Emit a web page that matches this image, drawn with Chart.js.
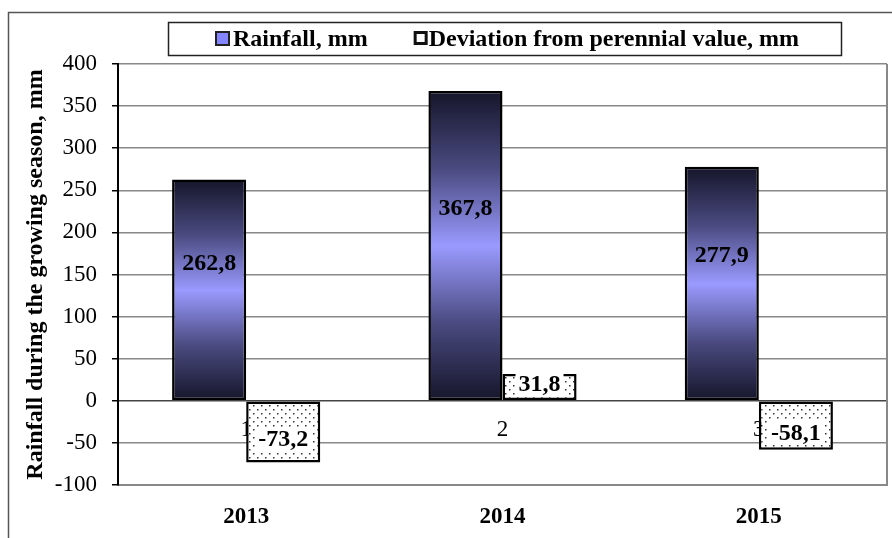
<!DOCTYPE html>
<html>
<head>
<meta charset="utf-8">
<script src="https://cdn.jsdelivr.net/npm/chart.js@4"></script>
<style>
  html, body { margin: 0; padding: 0; background: #fff; }
  #wrap { width: 892px; height: 538px; }
</style>
</head>
<body>
<div id="wrap"><canvas id="chart" width="892" height="538"></canvas></div>
<script>
// chart data
const years = ['2013', '2014', '2015'];
const rainfall = [262.8, 367.8, 277.9];
const deviation = [-73.2, 31.8, -58.1];
const strayMarks = ['1', '2', '3'];
const yTicks = [400, 350, 300, 250, 200, 150, 100, 50, 0, -50, -100];
const seriesNames = ['Rainfall, mm', 'Deviation from perennial value, mm'];

const serif = "'Liberation Serif', 'Times New Roman', serif";
const canvas = document.getElementById('chart');
const mainCtx = canvas.getContext('2d');

// dotted fill for the deviation bars
const pc = document.createElement('canvas');
pc.width = 8; pc.height = 8;
const pctx = pc.getContext('2d');
pctx.fillStyle = '#fff';
pctx.fillRect(0, 0, 8, 8);
pctx.fillStyle = '#333';
pctx.fillRect(1, 1, 1.5, 1.5);
pctx.fillRect(5, 5, 1.5, 1.5);
const dots = mainCtx.createPattern(pc, 'repeat');

function fmt(v) {
    return v.toFixed(1).replace('.', ',');
}

// vertical dark-light-dark gradient per bar
function rainGradient(context) {
    const chart = context.chart;
    const y = chart.scales.y;
    if (!y || context.type !== 'data') return '#8080ff';
    const top = y.getPixelForValue(context.raw);
    const base = y.getPixelForValue(0);
    if (!isFinite(top) || !isFinite(base) || top === base) return '#8080ff';
    const g = chart.ctx.createLinearGradient(0, top, 0, base);
    g.addColorStop(0, '#15152a');
    g.addColorStop(0.25, '#4a4a80');
    g.addColorStop(0.5, '#9a9aff');
    g.addColorStop(0.75, '#4a4a80');
    g.addColorStop(1, '#15152a');
    return g;
}

const framePlugin = {
    id: 'frame',
    beforeDraw(chart) {
        const c = chart.ctx;
        c.save();
        c.fillStyle = '#fff';
        c.fillRect(0, 0, chart.width, chart.height);
        c.strokeStyle = '#555';
        c.lineWidth = 1.5;
        c.beginPath();
        c.moveTo(8.5, chart.height);
        c.lineTo(8.5, 12.5);
        c.lineTo(chart.width, 12.5);
        c.stroke();
        c.restore();
    },
    afterDraw(chart) {
        const c = chart.ctx;
        const a = chart.chartArea;
        c.save();
        // right edge of the plot area
        c.strokeStyle = '#888';
        c.lineWidth = 2;
        c.beginPath();
        c.moveTo(a.right, a.top);
        c.lineTo(a.right, a.bottom + 1);
        c.stroke();

        // legend in its box
        c.strokeStyle = '#222';
        c.lineWidth = 1.5;
        c.strokeRect(168.5, 22.5, 673, 33);
        c.font = 'bold 24px ' + serif;
        c.textBaseline = 'middle';
        c.textAlign = 'left';
        let x = 215;
        const cy = 39;
        seriesNames.forEach((name, i) => {
            if (i === 0) {
                c.fillStyle = '#8585ff';
                c.fillRect(x + 1, cy - 7, 13, 13);
                c.strokeStyle = '#222';
                c.lineWidth = 2;
                c.strokeRect(x + 1, cy - 7, 13, 13);
                x += 18;
            } else {
                c.fillStyle = '#fff';
                c.fillRect(x + 1, cy - 7, 12, 12);
                c.strokeStyle = '#111';
                c.lineWidth = 3;
                c.strokeRect(x + 1.5, cy - 6.5, 11, 11);
                x += 15;
            }
            c.fillStyle = '#000';
            c.fillText(name, x, cy + 1);
            x += c.measureText(name).width + 46;
        });
        c.restore();
    }
};

const labelPlugin = {
    id: 'barLabels',
    beforeDatasetsDraw(chart) {
        const c = chart.ctx;
        const xs = chart.scales.x, ys = chart.scales.y;
        c.save();
        c.font = '23px ' + serif;
        c.fillStyle = '#000';
        c.textAlign = 'center';
        c.textBaseline = 'middle';
        strayMarks.forEach((m, i) => {
            c.fillText(m, xs.getPixelForValue(i), ys.getPixelForValue(-35));
        });
        c.restore();
    },
    afterDatasetsDraw(chart) {
        const c = chart.ctx;
        const ys = chart.scales.y;
        c.save();
        c.font = 'bold 24px ' + serif;
        c.textAlign = 'center';
        c.textBaseline = 'middle';

        chart.getDatasetMeta(0).data.forEach((bar, i) => {
            c.fillStyle = '#000';
            c.fillText(fmt(rainfall[i]), bar.x, ys.getPixelForValue(rainfall[i] * 0.62));
        });

        chart.getDatasetMeta(1).data.forEach((bar, i) => {
            const txt = fmt(deviation[i]);
            const cy = (bar.y + bar.base) / 2 + (deviation[i] < 0 ? 7 : -3);
            const w = c.measureText(txt).width + 6;
            c.fillStyle = '#fff';
            c.fillRect(bar.x - w / 2, cy - 12, w, 24);
            c.fillStyle = '#000';
            c.fillText(txt, bar.x, cy + 1);
        });
        c.restore();
    }
};

new Chart(mainCtx, {
    type: 'bar',
    data: {
        labels: years,
        datasets: [
            {
                label: seriesNames[0],
                data: rainfall,
                backgroundColor: rainGradient,
                borderColor: '#000',
                borderWidth: 2.5,
                borderSkipped: false
            },
            {
                label: seriesNames[1],
                data: deviation,
                backgroundColor: dots,
                borderColor: '#000',
                borderWidth: 2.5,
                borderSkipped: false
            }
        ]
    },
    options: {
        responsive: false,
        animation: false,
        devicePixelRatio: 1,
        categoryPercentage: 0.578,
        barPercentage: 1,
        layout: { padding: { top: 64, left: 8, right: 5, bottom: 0 } },
        plugins: {
            tooltip: { enabled: false },
            legend: { display: false }
        },
        scales: {
            x: {
                grid: { display: false, drawTicks: false },
                border: { color: '#888', width: 2 },
                ticks: {
                    color: '#000',
                    padding: 18,
                    font: { family: serif, size: 23, weight: 'bold' }
                },
                afterFit: s => { s.height = 53; }
            },
            y: {
                min: -100,
                max: 400,
                afterBuildTicks: s => { s.ticks = yTicks.map(v => ({ value: v })); },
                grid: {
                    color: ctx => (ctx.tick && ctx.tick.value === 0 ? '#444' : '#888'),
                    lineWidth: 1.5,
                    tickLength: 6,
                    tickColor: '#000'
                },
                border: { color: '#000', width: 2 },
                ticks: {
                    color: '#000',
                    padding: 15,
                    font: { family: serif, size: 23 },
                    callback: v => String(v)
                },
                title: {
                    display: true,
                    text: 'Rainfall during the growing season, mm',
                    color: '#000',
                    font: { family: serif, size: 24, weight: 'bold' },
                    padding: { top: 13, bottom: 0 }
                },
                afterFit: s => { s.width = 110; }
            }
        }
    },
    plugins: [framePlugin, labelPlugin]
});
</script>
</body>
</html>
